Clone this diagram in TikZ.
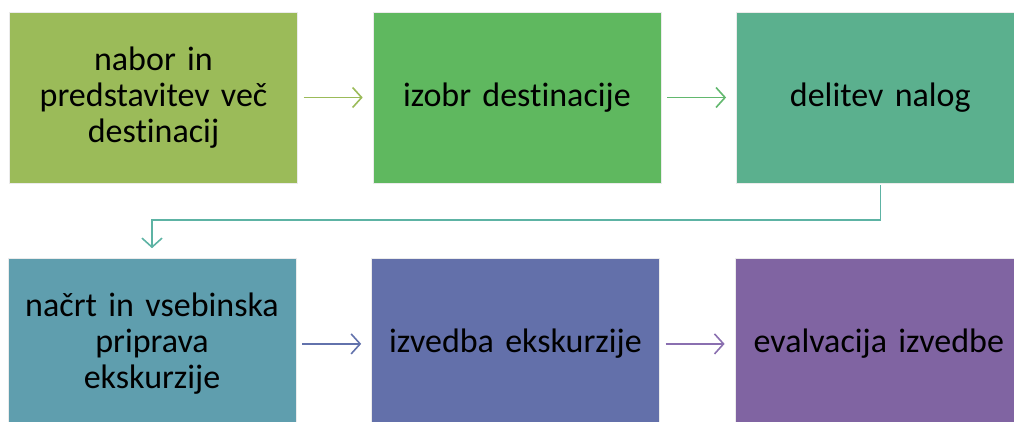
\documentclass[tikz,border=0pt]{standalone}
\usepackage{fontspec}
\setmainfont{Carlito}[Ligatures=NoCommon]
\usetikzlibrary{arrows.meta, positioning, calc}
\definecolor{exolive}{HTML}{9BBB59}
\definecolor{exgreen}{HTML}{5FB85F}
\definecolor{exsea}{HTML}{5BB08E}
\definecolor{exteal}{HTML}{5F9EAE}
\definecolor{exblue}{HTML}{6370AA}
\definecolor{expurple}{HTML}{8064A2}
\definecolor{exlinka}{HTML}{9BBB59}
\definecolor{exlinkb}{HTML}{62B86E}
\definecolor{exlinkc}{HTML}{5DB3A4}
\definecolor{exlinkd}{HTML}{6272AC}
\definecolor{exlinke}{HTML}{8A6FB0}
\tikzset{
  stepbox/.style={rectangle, minimum width=288pt, minimum height=171pt, inner sep=0pt,
    draw=white!92!black, line width=0.4pt, text width=280pt, align=center,
    font=\fontsize{34}{36}\selectfont, text=black},
  flow/.style={-{Straight Barb[length=9pt, width=20pt, line width=1.6pt]}, line width=1.6pt,
    shorten <=6pt, shorten >=10pt},
}
\begin{document}
\begin{tikzpicture}[x=1pt, y=-1pt]
    \useasboundingbox (0,0) rectangle (1014,421);
    \clip (0,0) rectangle (1014,421);
    \node[stepbox, fill=exolive] (nabor) at (153.5,97.5) {nabor in\\predstavitev več\\destinacij};
    \node[stepbox, fill=exgreen, right=75pt of nabor] (izbor) {izobr destinacije};
    \node[stepbox, fill=exsea, right=75pt of izbor] (delitev) {delitev nalog};
    \draw[flow, exlinka] (nabor) -- (izbor);
    \draw[flow, exlinkb] (izbor) -- (delitev);

    \node[stepbox, fill=exteal, below=75pt of nabor, xshift=-1.5pt] (nacrt) {načrt in vsebinska\\priprava\\ekskurzije};
    \node[stepbox, fill=exblue, right=75pt of nacrt] (izvedba) {izvedba ekskurzije};
    \node[stepbox, fill=expurple, right=75pt of izvedba] (evalvacija) {evalvacija izvedbe};
    \draw[flow, exlinkd] (nacrt) -- (izvedba);
    \draw[flow, exlinke] (izvedba) -- (evalvacija);

    \coordinate (turn) at ($(delitev.south)+(0,37)$);
    \draw[flow, exlinkc, shorten <=2pt] (delitev.south) -- (turn) -| (nacrt.north);
  \end{tikzpicture}
\end{document}
